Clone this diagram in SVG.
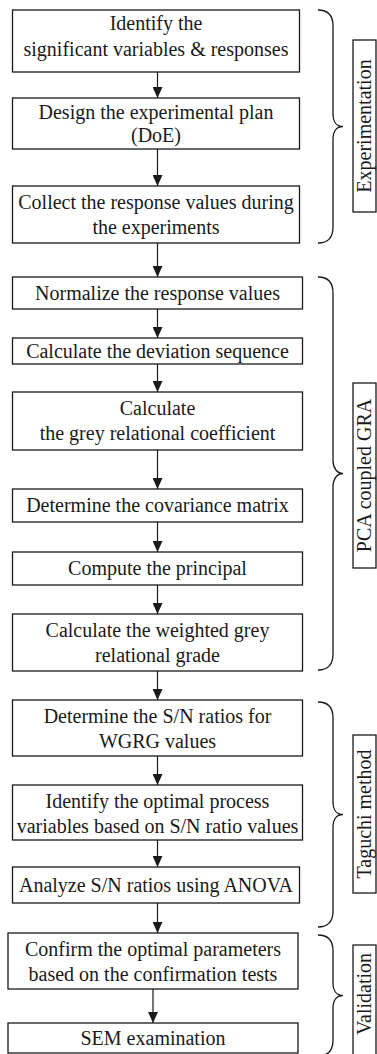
<svg xmlns="http://www.w3.org/2000/svg" width="377" height="1054" viewBox="0 0 377 1054">
  <style>
    .box { fill: #ffffff; stroke: #1a1a1a; stroke-width: 1.3; }
    .txt { font-family: "Liberation Serif", "Times New Roman", serif; font-size: 20px; fill: #1a1a1a; text-anchor: middle; }
    .conn { stroke: #1a1a1a; stroke-width: 1.2; fill: none; }
    .brace { stroke: #1a1a1a; stroke-width: 1.3; fill: none; }
  </style>
  <defs>
    <marker id="arrow" viewBox="0 0 11 10" refX="11" refY="5" markerWidth="11" markerHeight="10" markerUnits="userSpaceOnUse" orient="auto">
      <path d="M0,0 L11,5 L0,10 z" fill="#1a1a1a"/>
    </marker>
  </defs>
  <rect width="377" height="1054" fill="#ffffff"/>

  <!-- flow connectors -->
  <g id="connectors">
    <line class="conn" x1="157.5" y1="72" x2="157.5" y2="98" marker-end="url(#arrow)"/>
    <line class="conn" x1="157.5" y1="149" x2="157.5" y2="186" marker-end="url(#arrow)"/>
    <line class="conn" x1="157.5" y1="243" x2="157.5" y2="277" marker-end="url(#arrow)"/>
    <line class="conn" x1="157.5" y1="309" x2="157.5" y2="338" marker-end="url(#arrow)"/>
    <line class="conn" x1="157.5" y1="364" x2="157.5" y2="392" marker-end="url(#arrow)"/>
    <line class="conn" x1="157.5" y1="450" x2="157.5" y2="489" marker-end="url(#arrow)"/>
    <line class="conn" x1="157.5" y1="522" x2="157.5" y2="552" marker-end="url(#arrow)"/>
    <line class="conn" x1="157.5" y1="585" x2="157.5" y2="614" marker-end="url(#arrow)"/>
    <line class="conn" x1="157.5" y1="671" x2="157.5" y2="700" marker-end="url(#arrow)"/>
    <line class="conn" x1="157.5" y1="756" x2="157.5" y2="785" marker-end="url(#arrow)"/>
    <line class="conn" x1="157.5" y1="840" x2="157.5" y2="867" marker-end="url(#arrow)"/>
    <line class="conn" x1="157.5" y1="903" x2="157.5" y2="933" marker-end="url(#arrow)"/>
    <line class="conn" x1="153" y1="989" x2="153" y2="1023" marker-end="url(#arrow)"/>
  </g>

  <!-- process steps -->
  <g id="n1">
    <rect class="box" x="12.5" y="10" width="287" height="62"/>
    <text class="txt" x="156" y="30">Identify the</text>
    <text class="txt" x="156" y="56">significant variables &amp; responses</text>
  </g>
  <g id="n2">
    <rect class="box" x="12.5" y="98" width="287" height="51"/>
    <text class="txt" x="156" y="119">Design the experimental plan</text>
    <text class="txt" x="156" y="142">(DoE)</text>
  </g>
  <g id="n3">
    <rect class="box" x="12.5" y="186" width="287" height="57"/>
    <text class="txt" x="156" y="209">Collect the response values during</text>
    <text class="txt" x="156" y="234">the experiments</text>
  </g>
  <g id="n4">
    <rect class="box" x="12.5" y="277" width="290" height="32"/>
    <text class="txt" x="157.5" y="300">Normalize the response values</text>
  </g>
  <g id="n5">
    <rect class="box" x="12.5" y="338" width="290" height="26"/>
    <text class="txt" x="157.5" y="358">Calculate the deviation sequence</text>
  </g>
  <g id="n6">
    <rect class="box" x="12.5" y="392" width="290" height="58"/>
    <text class="txt" x="157.5" y="415">Calculate</text>
    <text class="txt" x="157.5" y="440">the grey relational coefficient</text>
  </g>
  <g id="n7">
    <rect class="box" x="12.5" y="489" width="290" height="33"/>
    <text class="txt" x="157.5" y="512">Determine the covariance matrix</text>
  </g>
  <g id="n8">
    <rect class="box" x="12.5" y="552" width="290" height="33"/>
    <text class="txt" x="157.5" y="575">Compute the principal</text>
  </g>
  <g id="n9">
    <rect class="box" x="12.5" y="614" width="290" height="57"/>
    <text class="txt" x="157.5" y="637">Calculate the weighted grey</text>
    <text class="txt" x="157.5" y="662">relational grade</text>
  </g>
  <g id="n10">
    <rect class="box" x="12.5" y="700" width="290" height="56"/>
    <text class="txt" x="157.5" y="723">Determine the S/N ratios for</text>
    <text class="txt" x="157.5" y="748">WGRG values</text>
  </g>
  <g id="n11">
    <rect class="box" x="12.5" y="785" width="290" height="55"/>
    <text class="txt" x="157.5" y="808">Identify the optimal process</text>
    <text class="txt" x="157.5" y="833">variables based on S/N ratio values</text>
  </g>
  <g id="n12">
    <rect class="box" x="12.5" y="867" width="287" height="36"/>
    <text class="txt" x="156" y="892">Analyze S/N ratios using ANOVA</text>
  </g>
  <g id="n13">
    <rect class="box" x="8" y="933" width="290" height="56"/>
    <text class="txt" x="153" y="956">Confirm the optimal parameters</text>
    <text class="txt" x="153" y="981">based on the confirmation tests</text>
  </g>
  <g id="n14">
    <rect class="box" x="8" y="1023" width="290" height="30"/>
    <text class="txt" x="153" y="1045">SEM examination</text>
  </g>

  <!-- phase braces -->
  <g id="braces">
    <path class="brace" d="M318,10 C327,10 333,15 333,26 L333,114 C333,122 337,126.5 343,126.5 C337,126.5 333,131 333,139 L333,227 C333,238 327,243 318,243"/>
    <path class="brace" d="M318,277 C327,277 333,282 333,293 L333,460 C333,468 337,473.5 343,473.5 C337,473.5 333,479 333,487 L333,654 C333,665 327,670 318,670"/>
    <path class="brace" d="M318,702 C327,702 333,707 333,718 L333,802 C333,810 337,814.5 343,814.5 C337,814.5 333,819 333,827 L333,911 C333,922 327,927 318,927"/>
    <path class="brace" d="M318,935 C327,935 333,940 333,951 L333,983 C333,991 337,995.5 343,995.5 C337,995.5 333,1000 333,1008 L333,1040 C333,1051 327,1056 318,1056"/>
  </g>

  <!-- phase labels -->
  <g id="label-experimentation">
    <rect class="box" x="353" y="40" width="23" height="172"/>
    <text class="txt" transform="translate(371,126) rotate(-90)">Experimentation</text>
  </g>
  <g id="label-pca-gra">
    <rect class="box" x="353" y="383" width="23" height="185"/>
    <text class="txt" transform="translate(371,475.5) rotate(-90)">PCA coupled GRA</text>
  </g>
  <g id="label-taguchi">
    <rect class="box" x="353" y="735" width="23" height="158"/>
    <text class="txt" transform="translate(371,814) rotate(-90)">Taguchi method</text>
  </g>
  <g id="label-validation">
    <rect class="box" x="353" y="945" width="23" height="120"/>
    <text class="txt" transform="translate(371,994) rotate(-90)">Validation</text>
  </g>
</svg>
